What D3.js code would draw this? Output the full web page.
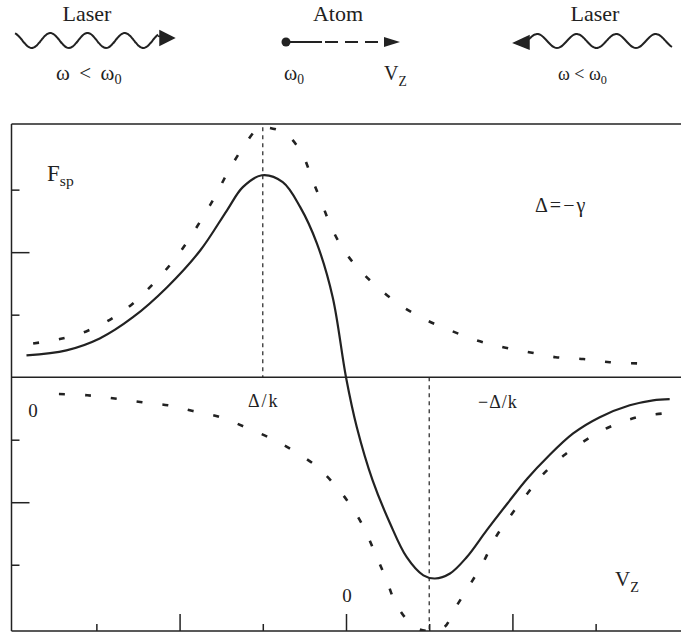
<!DOCTYPE html>
<html>
<head>
<meta charset="utf-8">
<script src="https://cdn.jsdelivr.net/npm/d3@7.9.0/dist/d3.min.js"></script>
<style>
  html, body { margin: 0; padding: 0; background: #fff; }
  svg { display: block; }
  text { font-family: "Liberation Serif", "DejaVu Serif", serif; fill: #222; }
</style>
</head>
<body>
<div id="chart"></div>
<script>
// velocity in units of gamma/k, force in tick units
const solidForce = [
  [-3.84, 0.35], [-3.36, 0.43], [-2.96, 0.62], [-2.56, 0.96], [-2.15, 1.44],
  [-1.75, 2.03], [-1.43, 2.67], [-1.24, 3.04], [-1.01, 3.23], [-0.76, 3.12],
  [-0.55, 2.72], [-0.35, 2.14], [-0.16, 1.28], [0, 0], [0.13, -0.80],
  [0.32, -1.65], [0.53, -2.34], [0.73, -2.88], [0.93, -3.17], [1.07, -3.22],
  [1.25, -3.14], [1.45, -2.88], [1.69, -2.45], [1.94, -2.02], [2.18, -1.62],
  [2.42, -1.28], [2.73, -0.90], [3.05, -0.64], [3.41, -0.45], [3.69, -0.37],
  [3.89, -0.35]
];

const leftBeam = [
  [-3.76, 0.54], [-3.44, 0.61], [-3.11, 0.74], [-2.81, 0.94], [-2.56, 1.18],
  [-2.32, 1.49], [-2.10, 1.82], [-1.91, 2.16], [-1.73, 2.54], [-1.57, 2.90],
  [-1.42, 3.28], [-1.25, 3.65], [-1.06, 3.98], [-0.99, 4.0], [-0.73, 3.90],
  [-0.53, 3.58], [-0.41, 3.18], [-0.29, 2.78], [-0.17, 2.38], [-0.01, 2.00],
  [0.19, 1.68], [0.43, 1.38], [0.69, 1.12], [0.97, 0.91], [1.27, 0.74],
  [1.57, 0.59], [1.89, 0.48], [2.20, 0.40], [2.52, 0.32], [2.85, 0.29],
  [3.17, 0.24], [3.51, 0.22]
];

const rightBeam = [
  [-3.45, -0.27], [-3.11, -0.29], [-2.78, -0.34], [-2.45, -0.40], [-2.14, -0.45],
  [-1.84, -0.54], [-1.51, -0.64], [-1.21, -0.80], [-0.90, -0.98], [-0.64, -1.17],
  [-0.36, -1.42], [-0.13, -1.73], [0.06, -2.06], [0.22, -2.42], [0.35, -2.82],
  [0.48, -3.22], [0.61, -3.65], [0.83, -4.0], [1.01, -4.06], [1.18, -4.0],
  [1.31, -3.70], [1.47, -3.36], [1.65, -2.96], [1.79, -2.58], [1.98, -2.21],
  [2.18, -1.86], [2.37, -1.55], [2.62, -1.25], [2.90, -0.99], [3.16, -0.80],
  [3.50, -0.64], [3.81, -0.58]
];

const xMinorTicks = [-3, -1, 1, 3];
const xMajorTicks = [-2, 0, 2];
const yMinorTicks = [-3, -1, 1, 3];
const yMajorTicks = [-2, 2];
const resonance = -1; // Δ/k

const width = 681;
const height = 636;

const svg = d3.select('#chart')
  .append('svg')
  .attr('width', width)
  .attr('height', height);

const x = d3.scaleLinear().domain([-4.02, 4.02]).range([11.5, 680.5]);
const y = d3.scaleLinear().domain([-4.06, 4.05]).range([631, 124]);

const ink = '#222';

// ---------- top sketch: lasers and atom ----------
const sketch = svg.append('g');

function wavePoints(x0, x1, yc, amp, period, troughAt) {
  const pts = [];
  for (let px = x0; px <= x1; px += 1) {
    pts.push([px, yc + amp * Math.cos(2 * Math.PI * (px - troughAt) / period)]);
  }
  return pts;
}

const plain = d3.line().curve(d3.curveBasis);

const leftWave = wavePoints(15, 158, 40.5, 7.5, 37.2, 31.7);
sketch.append('path')
  .attr('d', plain(leftWave))
  .attr('fill', 'none').attr('stroke', ink).attr('stroke-width', 2);
sketch.append('path')
  .attr('d', 'M158,36 L162,37.5 M160,31 L174,38 L160,45 Z')
  .attr('fill', ink).attr('stroke', ink).attr('stroke-width', 1.5);

const rightWave = wavePoints(529, 672, 41, 7, 39.5, 557);
sketch.append('path')
  .attr('d', plain(rightWave))
  .attr('fill', 'none').attr('stroke', ink).attr('stroke-width', 2);
sketch.append('path')
  .attr('d', 'M529,36 L514,43 L529,49 Z')
  .attr('fill', ink).attr('stroke', ink).attr('stroke-width', 1.5);

// atom
sketch.append('circle').attr('cx', 286).attr('cy', 42).attr('r', 4.5).attr('fill', ink);
sketch.append('line').attr('x1', 286).attr('x2', 322).attr('y1', 42).attr('y2', 42)
  .attr('stroke', ink).attr('stroke-width', 1.8);
sketch.append('line').attr('x1', 325).attr('x2', 386).attr('y1', 42).attr('y2', 42)
  .attr('stroke', ink).attr('stroke-width', 1.8).attr('stroke-dasharray', '13,7');
sketch.append('path').attr('d', 'M384,37 L400,42 L384,47 Z').attr('fill', ink);

function label(g, tx, ty, main, sub, size, anchor, subDy) {
  const t = g.append('text')
    .attr('x', tx).attr('y', ty)
    .attr('font-size', size)
    .attr('text-anchor', anchor || 'start');
  t.append('tspan').text(main);
  if (sub) {
    t.append('tspan').attr('dy', subDy || 5).attr('font-size', size * 0.68).text(sub);
  }
  return t;
}

label(sketch, 87, 21, 'Laser', null, 22, 'middle');
label(sketch, 338, 21, 'Atom', null, 22, 'middle');
label(sketch, 595, 21, 'Laser', null, 22, 'middle');
label(sketch, 56, 80, 'ω \u2009<\u2009 ω', '0', 21, 'start', 4);
label(sketch, 284, 80, 'ω', '0', 20, 'start', 4);
label(sketch, 384, 80, 'V', 'Z', 20, 'start', 6);
label(sketch, 558, 80, 'ω < ω', '0', 18, 'start', 4);

// ---------- force plot ----------
const plot = svg.append('g');

svg.append('defs').append('clipPath').attr('id', 'area')
  .append('rect')
  .attr('x', x(-4.02)).attr('y', y(4.05))
  .attr('width', width - x(-4.02)).attr('height', y(-4.06) - y(4.05));

// frame
plot.append('line')
  .attr('x1', x(-4.02)).attr('x2', x(-4.02))
  .attr('y1', y(4.05)).attr('y2', y(-4.06))
  .attr('stroke', ink).attr('stroke-width', 1.5);
[4.05, 0, -4.06].forEach(v => {
  plot.append('line')
    .attr('x1', x(-4.02)).attr('x2', width)
    .attr('y1', y(v)).attr('y2', y(v))
    .attr('stroke', ink).attr('stroke-width', 1.5);
});

// ticks via axes, pointing inward
function ticks(axis, transform) {
  const g = plot.append('g').attr('transform', transform).call(axis);
  g.select('.domain').remove();
  g.selectAll('.tick line').attr('stroke', ink).attr('stroke-width', 1.5);
  g.selectAll('.tick text').remove();
}
ticks(d3.axisBottom(x).tickValues(xMinorTicks).tickSize(-7).tickFormat(''),
  `translate(0,${y(-4.06)})`);
ticks(d3.axisBottom(x).tickValues(xMajorTicks).tickSize(-17).tickFormat(''),
  `translate(0,${y(-4.06)})`);
ticks(d3.axisLeft(y).tickValues(yMinorTicks).tickSize(-8).tickFormat(''),
  `translate(${x(-4.02)},0)`);
ticks(d3.axisLeft(y).tickValues(yMajorTicks).tickSize(-18).tickFormat(''),
  `translate(${x(-4.02)},0)`);

// resonance markers
plot.append('line')
  .attr('x1', x(resonance)).attr('x2', x(resonance))
  .attr('y1', y(4.0)).attr('y2', y(0))
  .attr('stroke', ink).attr('stroke-width', 1.2).attr('stroke-dasharray', '4,4');
plot.append('line')
  .attr('x1', x(-resonance)).attr('x2', x(-resonance))
  .attr('y1', y(0)).attr('y2', y(-4.06))
  .attr('stroke', ink).attr('stroke-width', 1.2).attr('stroke-dasharray', '4,4');

const curve = d3.line()
  .x(d => x(d[0]))
  .y(d => y(d[1]))
  .curve(d3.curveCatmullRom.alpha(0.5));

const curves = plot.append('g').attr('clip-path', 'url(#area)');

[leftBeam, rightBeam].forEach(beam => {
  curves.append('path')
    .datum(beam)
    .attr('d', curve)
    .attr('fill', 'none')
    .attr('stroke', ink)
    .attr('stroke-width', 2.6)
    .attr('stroke-dasharray', '6,20');
});

curves.append('path')
  .datum(solidForce)
  .attr('d', curve)
  .attr('fill', 'none')
  .attr('stroke', ink)
  .attr('stroke-width', 2.2);

// labels
label(plot, 47, 181, 'F', 'sp', 23, 'start', 5);
label(plot, 535, 212, 'Δ=−γ', null, 20, 'start').attr('letter-spacing', 2);
label(plot, 33, 417, '0', null, 19, 'middle');
label(plot, x(resonance) + 1, 407, 'Δ/k', null, 18, 'middle').attr('letter-spacing', 2);
label(plot, 478, 408, '−Δ/k', null, 18, 'start').attr('letter-spacing', 1);
label(plot, x(0) + 1, 602, '0', null, 19, 'middle');
label(plot, 615, 586, 'V', 'Z', 21, 'start', 6);
</script>
</body>
</html>
